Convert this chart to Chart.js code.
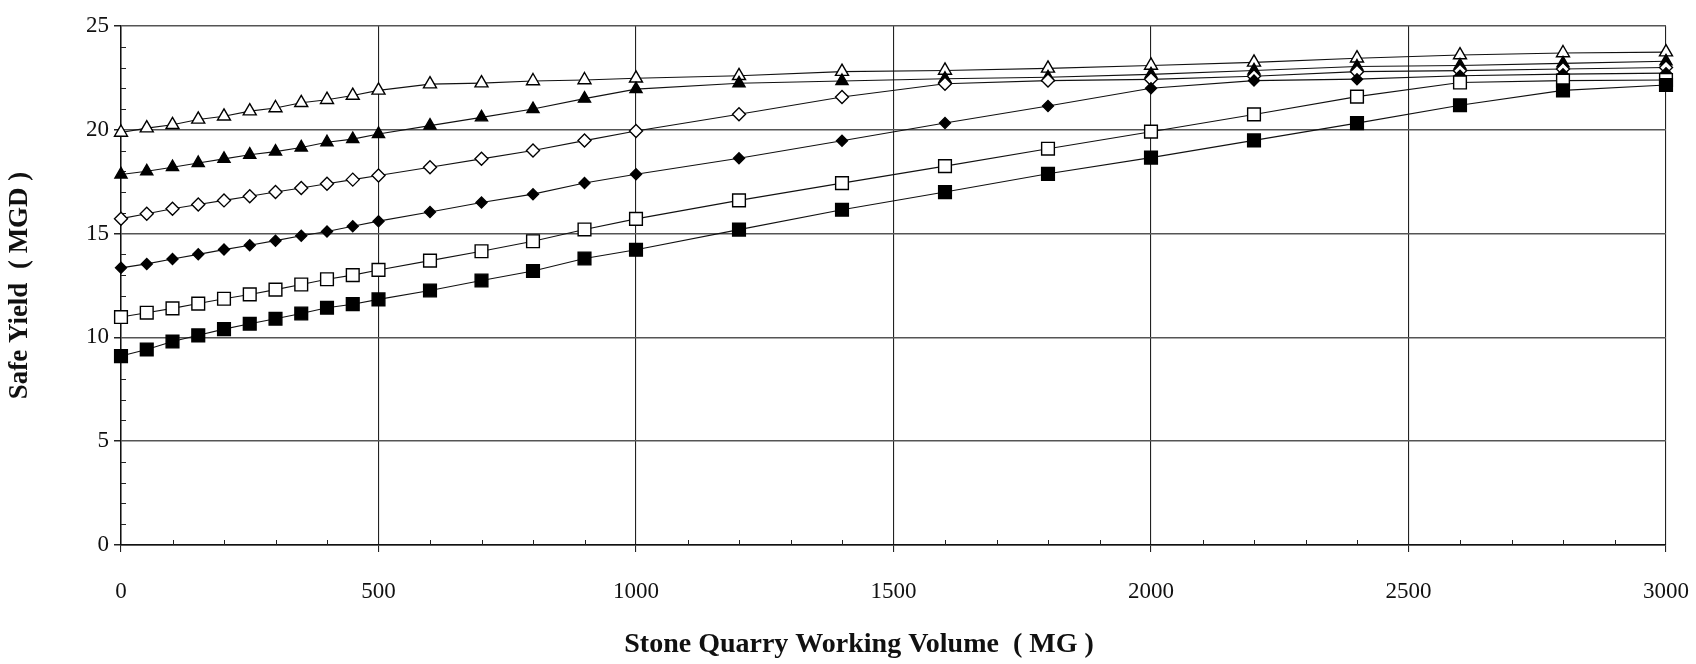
<!DOCTYPE html>
<html>
<head>
<meta charset="utf-8">
<script src="https://cdn.jsdelivr.net/npm/chart.js@4"></script>
<style>
  html, body { margin: 0; padding: 0; background: #ffffff; }
  #wrap { width: 1696px; height: 664px; }
</style>
</head>
<body>
<div id="wrap"><canvas id="c" width="1696" height="664"></canvas></div>
<script>
// Stone quarry working volume (MG)
const volumes = [0, 50, 100, 150, 200, 250, 300, 350, 400, 450, 500, 600, 700, 800, 900, 1000,
                 1200, 1400, 1600, 1800, 2000, 2200, 2400, 2600, 2800, 3000];

// Safe yield (MGD), one list per curve
const yieldFilledSquare = [9.1, 9.42, 9.8, 10.1, 10.4, 10.66, 10.9, 11.15, 11.43, 11.6, 11.83, 12.26, 12.74, 13.2, 13.8, 14.22,
                           15.19, 16.15, 17.0, 17.88, 18.66, 19.49, 20.32, 21.18, 21.9, 22.16];
const yieldOpenSquare = [10.98, 11.19, 11.4, 11.63, 11.86, 12.07, 12.3, 12.55, 12.8, 13.0, 13.25, 13.7, 14.15, 14.63, 15.2, 15.71,
                         16.6, 17.43, 18.25, 19.09, 19.91, 20.74, 21.6, 22.28, 22.37, 22.4];
const yieldFilledDiamond = [13.35, 13.54, 13.78, 14.0, 14.23, 14.44, 14.66, 14.9, 15.1, 15.35, 15.6, 16.04, 16.5, 16.9, 17.44, 17.86,
                            18.63, 19.47, 20.33, 21.15, 22.0, 22.37, 22.44, 22.6, 22.68, 22.73];
const yieldOpenDiamond = [15.72, 15.96, 16.2, 16.4, 16.6, 16.8, 17.0, 17.2, 17.4, 17.6, 17.8, 18.2, 18.6, 19.0, 19.48, 19.94,
                          20.75, 21.58, 22.22, 22.37, 22.43, 22.58, 22.8, 22.85, 22.93, 23.0];
const yieldFilledTriangle = [17.85, 18.0, 18.2, 18.4, 18.6, 18.8, 18.95, 19.15, 19.4, 19.55, 19.8, 20.2, 20.6, 21.0, 21.5, 21.96,
                             22.24, 22.35, 22.46, 22.53, 22.67, 22.86, 23.05, 23.1, 23.2, 23.3];
const yieldOpenTriangle = [19.87, 20.08, 20.24, 20.5, 20.65, 20.9, 21.05, 21.3, 21.45, 21.65, 21.9, 22.2, 22.25, 22.35, 22.4, 22.48,
                           22.6, 22.8, 22.86, 22.96, 23.1, 23.25, 23.45, 23.6, 23.7, 23.74];

// Axis ranges and labels
const xMin = 0, xMax = 3000, xStep = 500, xMinorStep = 100;
const yMin = 0, yMax = 25, yStep = 5, yMinorStep = 1;
const xTitle = 'Stone Quarry Working Volume  ( MG )';
const yTitle = 'Safe Yield  ( MGD )';

const SERIF = '"Liberation Serif", "Times New Roman", serif';

function toPoints(values) {
  return volumes.map((v, i) => ({ x: v, y: values[i] }));
}

function series(values, style, radius, filled) {
  return {
    data: toPoints(values),
    showLine: true,
    clip: false,
    borderColor: '#111',
    borderWidth: 1.1,
    pointStyle: style,
    pointRadius: radius,
    pointHoverRadius: radius,
    pointBackgroundColor: filled ? '#000' : '#fff',
    pointBorderColor: '#000',
    pointBorderWidth: 1.4,
    tension: 0
  };
}

// Short inward tick marks between the labelled ticks, plus the x axis title
const minorTicks = {
  id: 'minorTicks',
  beforeDatasetsDraw(chart) {
    const { ctx, chartArea } = chart;
    const xs = chart.scales.x, ys = chart.scales.y;
    ctx.save();
    ctx.strokeStyle = '#222';
    ctx.lineWidth = 1;
    ctx.beginPath();
    for (let v = xMin + xMinorStep; v < xMax; v += xMinorStep) {
      if (v % xStep === 0) continue;
      const px = Math.round(xs.getPixelForValue(v)) + 0.5;
      ctx.moveTo(px, chartArea.bottom);
      ctx.lineTo(px, chartArea.bottom - 5);
    }
    for (let v = yMin + yMinorStep; v < yMax; v += yMinorStep) {
      if (v % yStep === 0) continue;
      const py = Math.round(ys.getPixelForValue(v)) + 0.5;
      ctx.moveTo(chartArea.left, py);
      ctx.lineTo(chartArea.left + 5, py);
    }
    ctx.stroke();
    ctx.restore();
  },
  afterDraw(chart) {
    const { ctx } = chart;
    ctx.save();
    ctx.fillStyle = '#111';
    ctx.font = 'bold 28px ' + SERIF;
    ctx.textAlign = 'center';
    ctx.textBaseline = 'middle';
    ctx.fillText(xTitle, 859, 645);
    ctx.restore();
  }
};

new Chart(document.getElementById('c'), {
  type: 'scatter',
  data: {
    datasets: [
      series(yieldFilledSquare, 'rect', 9, true),
      series(yieldOpenSquare, 'rect', 9, false),
      series(yieldFilledDiamond, 'rectRot', 5.5, true),
      series(yieldOpenDiamond, 'rectRot', 6.5, false),
      series(yieldFilledTriangle, 'triangle', 7, true),
      series(yieldOpenTriangle, 'triangle', 7.5, false)
    ]
  },
  options: {
    responsive: false,
    animation: false,
    devicePixelRatio: 1,
    layout: { padding: { left: 0, right: 30, top: 26, bottom: 0 } },
    plugins: {
      legend: { display: false },
      tooltip: { enabled: false }
    },
    scales: {
      x: {
        type: 'linear',
        min: xMin,
        max: xMax,
        afterFit(scale) {
          scale.height = 119;
          scale.paddingLeft = 0;
          scale.paddingRight = 0;
        },
        ticks: {
          stepSize: xStep,
          color: '#111',
          font: { family: SERIF, size: 23 },
          padding: 26,
          maxRotation: 0,
          callback: (v) => String(v)
        },
        grid: {
          color: '#222',
          lineWidth: 1.1,
          tickColor: '#222',
          tickLength: 7
        },
        border: { color: '#111', width: 1.5 }
      },
      y: {
        type: 'linear',
        min: yMin,
        max: yMax,
        afterFit(scale) {
          scale.width = 121;
          scale.paddingTop = 0;
          scale.paddingBottom = 0;
        },
        ticks: {
          stepSize: yStep,
          color: '#111',
          font: { family: SERIF, size: 23 },
          padding: 5,
          callback: (v) => String(v)
        },
        grid: {
          color: '#555',
          lineWidth: 1.5,
          tickColor: '#222',
          tickLength: 7
        },
        border: { color: '#111', width: 1.5 },
        title: {
          display: true,
          text: yTitle,
          color: '#111',
          font: { family: SERIF, size: 27, weight: 'bold' },
          padding: { top: 4, bottom: 0 }
        }
      }
    }
  },
  plugins: [minorTicks]
});
</script>
</body>
</html>
